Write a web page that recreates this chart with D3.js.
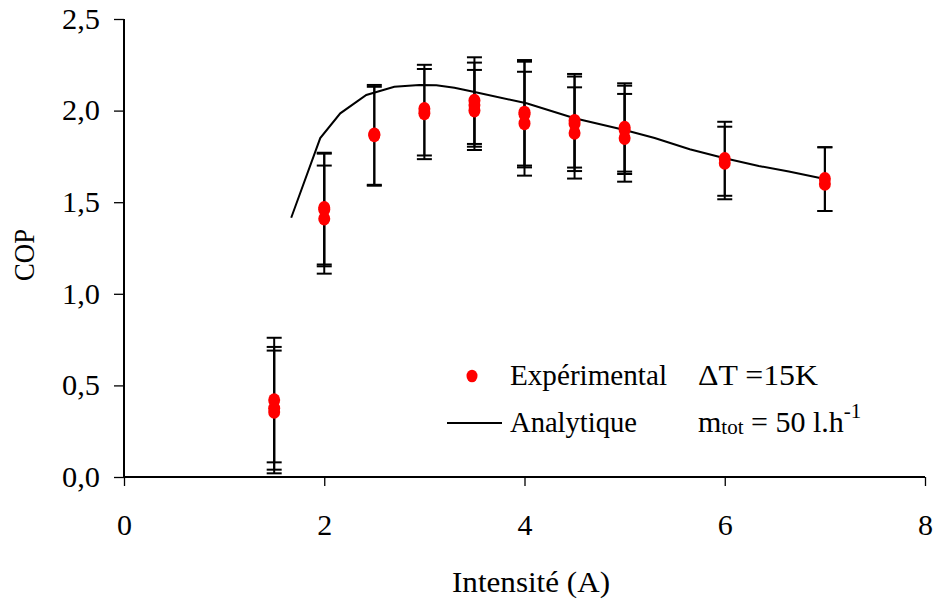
<!DOCTYPE html>
<html>
<head>
<meta charset="utf-8">
<script src="https://cdn.jsdelivr.net/npm/d3@7"></script>
<style>
  html, body { margin: 0; padding: 0; background: #fff; }
</style>
</head>
<body>
<svg id="chart" width="937" height="599"></svg>
<script>
// ---- Data ----
const expI      = [1.5, 1.5, 1.5, 2, 2, 2, 2.5, 2.5, 3, 3, 3.5, 3.5, 3.5, 4, 4, 4, 4.5, 4.5, 4.5, 5, 5, 5, 6, 6, 7, 7];
const expCOP    = [0.42, 0.375, 0.355, 1.47, 1.46, 1.41, 1.87, 1.865, 2.01, 1.985, 2.055, 2.03, 2.00, 1.99, 1.98, 1.93, 1.945, 1.928, 1.878, 1.908, 1.895, 1.85, 1.737, 1.714, 1.628, 1.60];
const errLow    = [0.08, 0.04, 0.02, 1.16, 1.15, 1.11, 1.59, 1.595, 1.755, 1.735, 1.818, 1.803, 1.785, 1.70, 1.69, 1.645, 1.689, 1.670, 1.629, 1.667, 1.654, 1.612, 1.535, 1.516, 1.452, 1.452];
const errHigh   = [0.76, 0.71, 0.69, 1.77, 1.765, 1.70, 2.14, 2.13, 2.25, 2.227, 2.291, 2.262, 2.222, 2.276, 2.267, 2.212, 2.20, 2.186, 2.127, 2.149, 2.136, 2.091, 1.939, 1.912, 1.80, 1.80];

const anaI      = [1.67, 1.96, 2.16, 2.42, 2.70, 2.95, 3.12, 3.30, 3.49, 4.02, 4.50, 5.00, 5.30, 5.65, 6.00, 6.34, 6.64, 7.00];
const anaCOP    = [1.415, 1.85, 1.985, 2.085, 2.13, 2.14, 2.138, 2.125, 2.103, 2.04, 1.958, 1.894, 1.85, 1.789, 1.74, 1.698, 1.667, 1.627];

const xTicks = [0, 2, 4, 6, 8];
const yTicks = [0, 0.5, 1.0, 1.5, 2.0, 2.5];
const xLabel = "Intensité (A)";
const yLabel = "COP";
const legendExp = "Expérimental";
const legendAna = "Analytique";

// ---- Layout ----
const FONT = '"Liberation Serif", "DejaVu Serif", serif';
const svg = d3.select("#chart").attr("font-family", FONT);
const x = d3.scaleLinear().domain([0, 8]).range([124, 925]);
const y = d3.scaleLinear().domain([0, 2.5]).range([477, 19]);
const fmt = d => d3.format(".1f")(d).replace(".", ",");

// Axes
const gx = svg.append("g").attr("transform", `translate(0,${y(0)})`)
  .call(d3.axisBottom(x).tickValues(xTicks).tickSize(9).tickPadding(28).tickFormat(d3.format("d")));
const gy = svg.append("g").attr("transform", `translate(${x(0)},0)`)
  .call(d3.axisLeft(y).tickValues(yTicks).tickSize(10).tickPadding(14).tickFormat(fmt));
[gx, gy].forEach(g => {
  g.attr("font-family", FONT);
  g.select(".domain").attr("stroke", "#000").attr("stroke-width", 2);
  g.selectAll(".tick line").attr("stroke", "#000").attr("stroke-width", 1.3);
  g.selectAll(".tick text").attr("fill", "#000").attr("font-size", 29);
});
gx.selectAll(".tick text").attr("textLength", 15).attr("lengthAdjust", "spacingAndGlyphs");
gy.selectAll(".tick text").attr("textLength", 38).attr("lengthAdjust", "spacingAndGlyphs");
gx.select(".domain").attr("d", `M${x(0)},0H${x(8)}`);
gy.select(".domain").attr("d", `M0,${y(0)}V${y(2.5)}`);

// Axis titles
svg.append("text").attr("x", 531).attr("y", 592).attr("text-anchor", "middle")
  .attr("font-size", 30).attr("textLength", 158).attr("lengthAdjust", "spacingAndGlyphs").text(xLabel);
svg.append("text").attr("transform", "translate(34,255) rotate(-90)")
  .attr("text-anchor", "middle").attr("font-size", 29)
  .attr("textLength", 52).attr("lengthAdjust", "spacingAndGlyphs").text(yLabel);

// Analytic curve
const line = d3.line().x((d, i) => x(anaI[i])).y((d, i) => y(anaCOP[i]));
svg.append("path").attr("d", line(anaI)).attr("fill", "none")
  .attr("stroke", "#000").attr("stroke-width", 2);

// Error bars
const idx = d3.range(expI.length);
const eb = svg.append("g").attr("stroke", "#000").attr("stroke-width", 2);
eb.selectAll("line.v").data(idx).join("line")
  .attr("x1", i => x(expI[i])).attr("x2", i => x(expI[i]))
  .attr("y1", i => y(errLow[i])).attr("y2", i => y(errHigh[i]));
const capW = 7.5;
eb.selectAll("line.hi").data(idx).join("line")
  .attr("x1", i => x(expI[i]) - capW).attr("x2", i => x(expI[i]) + capW)
  .attr("y1", i => y(errHigh[i])).attr("y2", i => y(errHigh[i]));
eb.selectAll("line.lo").data(idx).join("line")
  .attr("x1", i => x(expI[i]) - capW).attr("x2", i => x(expI[i]) + capW)
  .attr("y1", i => y(errLow[i])).attr("y2", i => y(errLow[i]));

// Points
svg.append("g").selectAll("ellipse").data(idx).join("ellipse")
  .attr("cx", i => x(expI[i])).attr("cy", i => y(expCOP[i]))
  .attr("rx", 6).attr("ry", 6.8).attr("fill", "#ff0000");

// Legend
const lg = svg.append("g").attr("font-size", 30).attr("fill", "#000");
lg.append("ellipse").attr("cx", 472).attr("cy", 376).attr("rx", 5.5).attr("ry", 6.3).attr("fill", "#ff0000");
lg.append("text").attr("x", 510).attr("y", 385)
  .attr("textLength", 157).attr("lengthAdjust", "spacingAndGlyphs").text(legendExp);
lg.append("text").attr("x", 698).attr("y", 385)
  .attr("textLength", 120).attr("lengthAdjust", "spacingAndGlyphs").text("\u0394T =15K");
lg.append("line").attr("x1", 447).attr("x2", 502).attr("y1", 423).attr("y2", 423)
  .attr("stroke", "#000").attr("stroke-width", 2);
lg.append("text").attr("x", 510).attr("y", 432)
  .attr("textLength", 127).attr("lengthAdjust", "spacingAndGlyphs").text(legendAna);
const m = lg.append("text").attr("x", 698).attr("y", 432);
m.append("tspan").text("m");
m.append("tspan").attr("font-size", 21).attr("dy", 2).text("tot");
m.append("tspan").attr("dy", -2).text(" = 50 l.h");
m.append("tspan").attr("font-size", 21).attr("dy", -14).text("-1");
</script>
</body>
</html>
